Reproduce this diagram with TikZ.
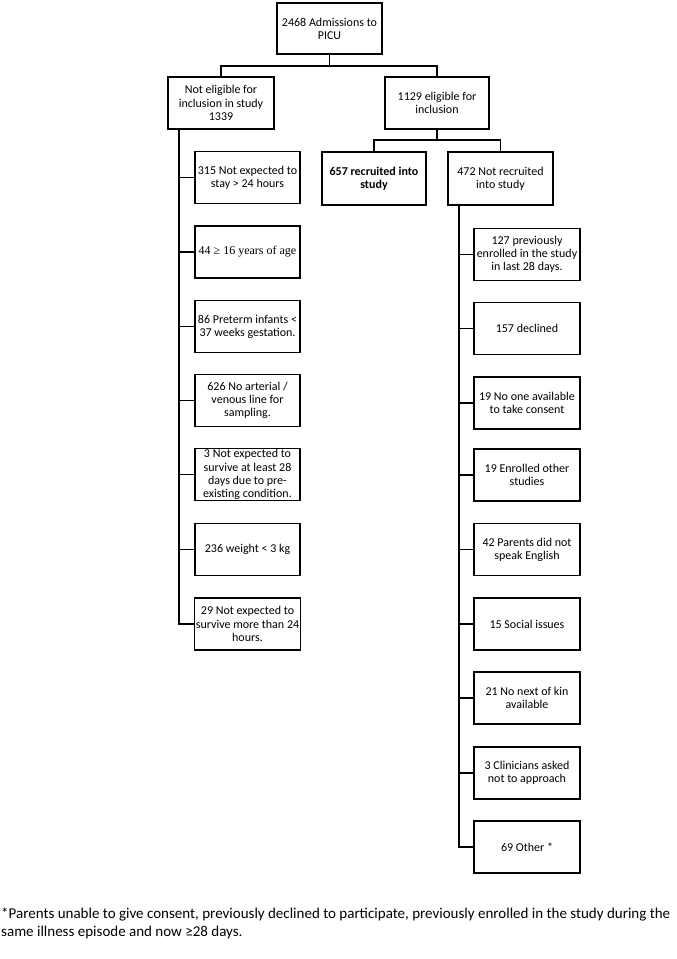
\documentclass[tikz,border=0pt]{standalone}
\usepackage{fontspec}
\setmainfont{Carlito}
\newfontfamily\serifsym{Liberation Serif}
\begin{document}
\begin{tikzpicture}[x=1pt,y=-1pt,
  bx/.style={draw, line width=1.1pt, align=center, inner sep=1pt,
    minimum width=105pt, minimum height=52pt,
    font=\fontsize{12}{13.2}\selectfont},
  ln/.style={line width=1.1pt}]
\useasboundingbox (0,0) rectangle (677,959);
% top level
\node[bx, minimum width=105pt, minimum height=51pt] (top) at (329.5,28.5) {2468 Admissions to\\PICU};
\node[bx, minimum width=106pt] (nle) at (221,103) {Not eligible for\\inclusion in study\\1339};
\node[bx, minimum width=104pt] (elig) at (437,103) {1129 eligible for\\inclusion};
\node[bx, minimum width=104pt, minimum height=53pt, font=\fontsize{12}{13.2}\selectfont\bfseries] (rec) at (374,178.5) {657 recruited into\\study};
\node[bx, minimum height=53pt] (notrec) at (500.5,178.5) {472 Not recruited\\into study};
\coordinate (j1) at (329.5,66);
\coordinate (j2) at (437,140);
\draw[ln] (top.south) -- (j1);
\draw[ln] (nle.north) |- (j1) -| (elig.north);
\draw[ln] (elig.south) -- (j2);
\draw[ln] (rec.north) |- (j2) -| (notrec.north);
% left column
\node[bx] (l1) at (247.5,177.5) {315 Not expected to\\stay > 24 hours};
\node[bx, font=\fontsize{12}{13.2}\serifsym] (l2) at (247.5,252) {44 ≥ 16 years of age};
\node[bx] (l3) at (247.5,326.5) {86 Preterm infants <\\37 weeks gestation.};
\node[bx] (l4) at (247.5,400.5) {626 No arterial /\\venous line for\\sampling.};
\node[bx] (l5) at (247.5,474.5) {3 Not expected to\\survive at least 28\\days due to pre-\\existing condition.};
\node[bx] (l6) at (247.5,549.5) {236 weight < 3 kg};
\node[bx] (l7) at (247.5,624) {29 Not expected to\\survive more than 24\\hours.};
\coordinate (lt) at (179,129);
\draw[ln] (lt) |- (l7.west);
\foreach \n in {l1,l2,l3,l4,l5,l6} \draw[ln] (\n.west) -- (\n.west -| lt);
% right column
\node[bx, minimum width=106pt] (r1) at (527,254.5) {127 previously\\enrolled in the study\\in last 28 days.};
\node[bx, minimum width=106pt] (r2) at (527,328.5) {157 declined};
\node[bx, minimum width=106pt] (r3) at (527,403) {19 No one available\\to take consent};
\node[bx, minimum width=106pt] (r4) at (527,475) {19 Enrolled other\\studies};
\node[bx, minimum width=106pt] (r5) at (527,549.5) {42 Parents did not\\speak English};
\node[bx, minimum width=106pt] (r6) at (527,624) {15 Social issues};
\node[bx, minimum width=106pt] (r7) at (527,698) {21 No next of kin\\available};
\node[bx, minimum width=106pt] (r8) at (527,773) {3 Clinicians asked\\not to approach};
\node[bx, minimum width=106pt] (r9) at (527,847) {69 Other *};
\coordinate (rt) at (459,205);
\draw[ln] (rt) |- (r9.west);
\foreach \n in {r1,r2,r3,r4,r5,r6,r7,r8} \draw[ln] (\n.west) -- (\n.west -| rt);
% footnote
\node[anchor=base west, inner sep=0pt, align=left, font=\fontsize{15}{17.5}\selectfont] (fn) at (1,936)
 {*Parents unable to give consent, previously declined to participate, previously enrolled in the study during the\\same illness episode and now ≥28 days.};
\end{tikzpicture}
\end{document}
